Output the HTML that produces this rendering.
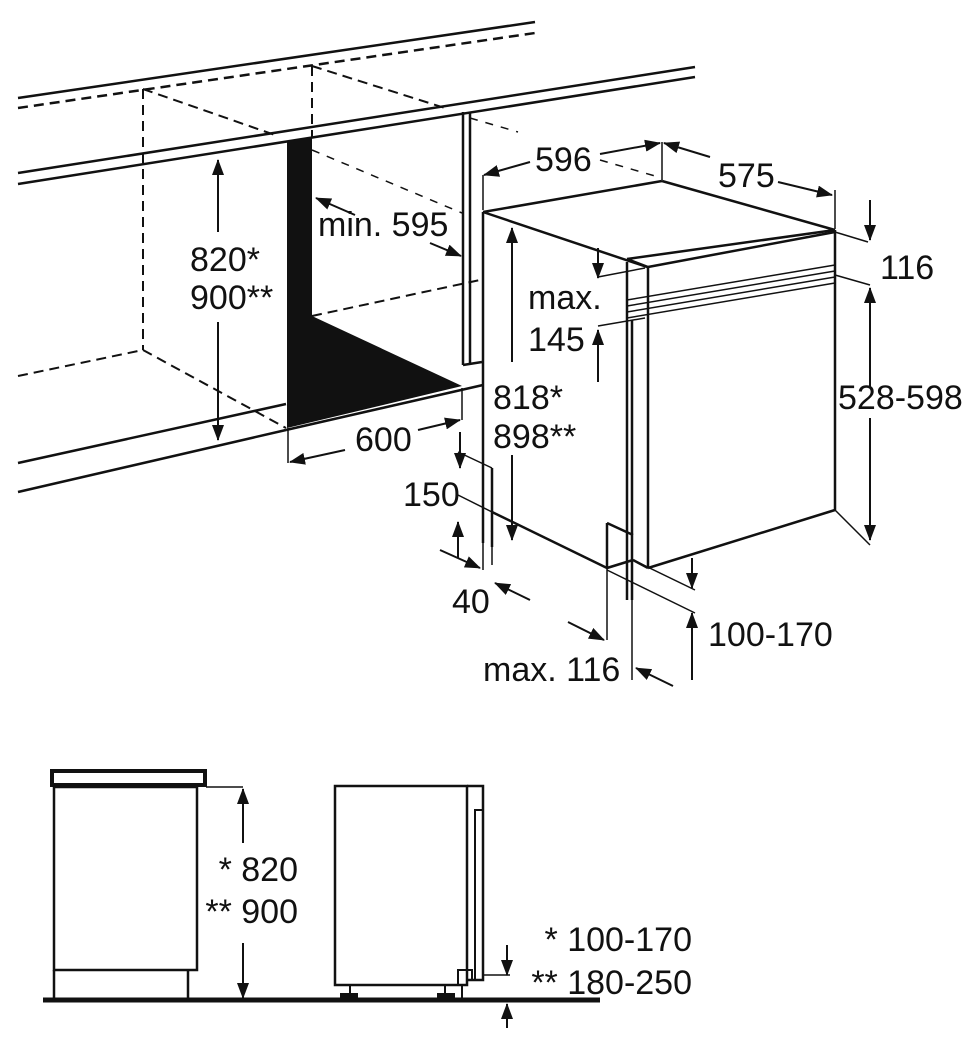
<!DOCTYPE html>
<html><head><meta charset="utf-8"><style>
html,body{margin:0;padding:0;background:#fff}
svg{display:block}
text{font-family:"Liberation Sans",Arial,sans-serif;font-size:34px;fill:#111}
</style></head><body>
<svg width="980" height="1050" viewBox="0 0 980 1050" xmlns="http://www.w3.org/2000/svg">
<defs>
<marker id="a" markerWidth="16" markerHeight="12" refX="15" refY="6" orient="auto" markerUnits="userSpaceOnUse">
<path d="M0,0 L16,6 L0,12 z" fill="#111"/></marker>
</defs>
<g stroke="#111" fill="none" stroke-width="2.5">
<line x1="18" y1="98" x2="535" y2="22"/>
<line x1="18" y1="108" x2="535" y2="33" stroke-dasharray="10,6"/>
<line x1="18" y1="173" x2="695" y2="67"/>
<line x1="18" y1="184" x2="695" y2="77"/>
<g stroke-dasharray="10,6" stroke-width="2">
<line x1="143" y1="89" x2="143" y2="350"/>
<line x1="312" y1="66" x2="312" y2="138"/>
<line x1="143" y1="89" x2="275" y2="135"/>
<line x1="312" y1="66" x2="445" y2="108"/>
<line x1="18" y1="376" x2="143" y2="350"/>
<line x1="143" y1="350" x2="286" y2="428"/>
<line x1="312" y1="316" x2="480" y2="280"/>
</g>
<g stroke-dasharray="8,8" stroke-width="1.5">
<line x1="312" y1="150" x2="462" y2="213"/>
<line x1="470" y1="118" x2="518" y2="132"/>
<line x1="600" y1="160" x2="655" y2="176"/>
</g>
<line x1="463" y1="112" x2="463" y2="365"/>
<line x1="470" y1="112" x2="470" y2="365"/>
<line x1="463" y1="365" x2="482" y2="362"/>
<line x1="18" y1="463" x2="286" y2="404"/>
<line x1="18" y1="492" x2="286" y2="430"/>
<line x1="286" y1="430" x2="483" y2="385"/>
<line x1="483" y1="212" x2="662" y2="181"/>
<line x1="662" y1="181" x2="835" y2="230"/>
<line x1="483" y1="212" x2="647" y2="267"/>
<line x1="627" y1="259" x2="835" y2="230"/>
<line x1="627" y1="259" x2="648" y2="267"/>
<line x1="648" y1="267" x2="835" y2="232"/>
<line x1="835" y1="230" x2="835" y2="510"/>
<line x1="648" y1="267" x2="648" y2="568"/>
<line x1="627" y1="262" x2="627" y2="600"/>
<line x1="632" y1="320" x2="632" y2="600"/>
<line x1="627" y1="300" x2="835" y2="265" stroke-width="1.5"/>
<line x1="627" y1="306" x2="835" y2="271" stroke-width="1.5"/>
<line x1="627" y1="312" x2="835" y2="277" stroke-width="1.5"/>
<line x1="627" y1="318" x2="835" y2="283" stroke-width="1.5"/>
<line x1="648" y1="568" x2="835" y2="510"/>
<line x1="483" y1="212" x2="483" y2="543"/>
<line x1="458" y1="452" x2="492" y2="468" stroke-width="1.5"/>
<line x1="492" y1="468" x2="492" y2="547"/>
<line x1="458" y1="495" x2="492" y2="512" stroke-width="1.5"/>
<line x1="492" y1="512" x2="607" y2="568"/>
<line x1="607" y1="523" x2="607" y2="568"/>
<line x1="607" y1="523" x2="633" y2="535"/>
<line x1="607" y1="568" x2="633" y2="560"/>
<line x1="633" y1="560" x2="648" y2="568"/>
<g stroke-width="1.5">
<line x1="483" y1="175" x2="483" y2="210"/>
<line x1="662" y1="142" x2="662" y2="180"/>
<line x1="835" y1="190" x2="835" y2="229"/>
<line x1="835" y1="232" x2="868" y2="242"/>
<line x1="835" y1="275" x2="870" y2="285"/>
<line x1="835" y1="510" x2="870" y2="545"/>
<line x1="598" y1="277" x2="645" y2="268"/>
<line x1="598" y1="326" x2="645" y2="318"/>
<line x1="288" y1="428" x2="288" y2="463"/>
<line x1="462" y1="388" x2="462" y2="420"/>
<line x1="492" y1="547" x2="492" y2="565"/>
<line x1="483" y1="543" x2="483" y2="570"/>
<line x1="607" y1="568" x2="607" y2="640"/>
<line x1="632" y1="600" x2="632" y2="680"/>
<line x1="633" y1="560" x2="695" y2="590"/>
<line x1="607" y1="570" x2="695" y2="613"/>
</g>
<g stroke-width="2">
<line x1="530" y1="162" x2="484" y2="175" marker-end="url(#a)"/>
<line x1="600" y1="154" x2="660" y2="143" marker-end="url(#a)"/>
<line x1="710" y1="157" x2="664" y2="143" marker-end="url(#a)"/>
<line x1="778" y1="182" x2="832" y2="195" marker-end="url(#a)"/>
<line x1="870" y1="200" x2="870" y2="240" marker-end="url(#a)"/>
<line x1="598" y1="248" x2="598" y2="278" marker-end="url(#a)"/>
<line x1="598" y1="382" x2="598" y2="330" marker-end="url(#a)"/>
<line x1="512" y1="362" x2="512" y2="228" marker-end="url(#a)"/>
<line x1="512" y1="455" x2="512" y2="540" marker-end="url(#a)"/>
<line x1="870" y1="388" x2="870" y2="288" marker-end="url(#a)"/>
<line x1="870" y1="418" x2="870" y2="540" marker-end="url(#a)"/>
<line x1="218" y1="232" x2="218" y2="160" marker-end="url(#a)"/>
<line x1="218" y1="322" x2="218" y2="440" marker-end="url(#a)"/>
<line x1="355" y1="215" x2="316" y2="198" marker-end="url(#a)"/>
<line x1="430" y1="243" x2="461" y2="256" marker-end="url(#a)"/>
<line x1="345" y1="450" x2="290" y2="462" marker-end="url(#a)"/>
<line x1="418" y1="430" x2="460" y2="420" marker-end="url(#a)"/>
<line x1="460" y1="432" x2="460" y2="468" marker-end="url(#a)"/>
<line x1="458" y1="558" x2="458" y2="522" marker-end="url(#a)"/>
<line x1="440" y1="550" x2="480" y2="568" marker-end="url(#a)"/>
<line x1="530" y1="600" x2="495" y2="583" marker-end="url(#a)"/>
<line x1="568" y1="622" x2="604" y2="640" marker-end="url(#a)"/>
<line x1="673" y1="686" x2="636" y2="668" marker-end="url(#a)"/>
<line x1="692" y1="558" x2="692" y2="588" marker-end="url(#a)"/>
<line x1="692" y1="680" x2="692" y2="613" marker-end="url(#a)"/>
</g>
</g>
<polygon points="287,141 312,138 312,316 462,386 287,428" fill="#111"/>
<text x="535" y="171">596</text>
<text x="718" y="187">575</text>
<text x="880" y="279">116</text>
<text x="318" y="236">min. 595</text>
<text x="190" y="271">820*</text>
<text x="190" y="309">900**</text>
<text x="528" y="309">max.</text>
<text x="528" y="351">145</text>
<text x="838" y="409">528-598</text>
<text x="493" y="409">818*</text>
<text x="493" y="448">898**</text>
<text x="355" y="451">600</text>
<text x="403" y="506">150</text>
<text x="452" y="613">40</text>
<text x="708" y="646">100-170</text>
<text x="483" y="681">max. 116</text>
<g stroke="#111" fill="none" stroke-width="2.5">
<line x1="43" y1="1000" x2="600" y2="1000" stroke-width="5"/>
<rect x="52" y="771" width="153" height="14" stroke-width="4"/>
<rect x="54" y="787" width="143" height="183"/>
<line x1="54" y1="970" x2="54" y2="1000"/>
<line x1="188" y1="970" x2="188" y2="1000"/>
<line x1="206" y1="787" x2="243" y2="787" stroke-width="1.5"/>
<line x1="243" y1="843" x2="243" y2="789" stroke-width="2" marker-end="url(#a)"/>
<line x1="243" y1="943" x2="243" y2="998" stroke-width="2" marker-end="url(#a)"/>
<rect x="335" y="786" width="132" height="199"/>
<polyline points="467,786 483,786 483,980 467,980"/>
<polyline points="475,980 475,810 483,810" stroke-width="2"/>
<polyline points="458,985 458,970 472,970 472,980" stroke-width="2"/>
<line x1="462" y1="985" x2="462" y2="998" stroke-width="2"/>
<line x1="483" y1="975" x2="510" y2="975" stroke-width="1.5"/>
<line x1="350" y1="985" x2="350" y2="996" stroke-width="2"/>
<line x1="445" y1="985" x2="445" y2="996" stroke-width="2"/>
<line x1="507" y1="945" x2="507" y2="975" stroke-width="2" marker-end="url(#a)"/>
<line x1="507" y1="1028" x2="507" y2="1004" stroke-width="2" marker-end="url(#a)"/>
</g>
<rect x="340" y="993" width="18" height="6" fill="#111"/>
<rect x="437" y="993" width="18" height="6" fill="#111"/>
<text x="298" y="881" text-anchor="end">* 820</text>
<text x="298" y="923" text-anchor="end">** 900</text>
<text x="692" y="951" text-anchor="end">* 100-170</text>
<text x="692" y="994" text-anchor="end">** 180-250</text>
</svg>
</body></html>
